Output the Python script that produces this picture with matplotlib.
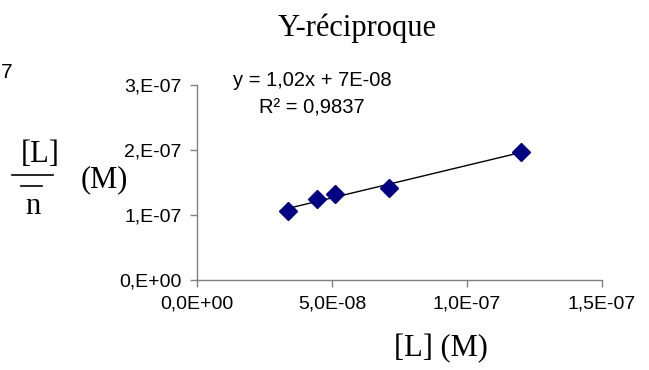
import matplotlib
matplotlib.use("Agg")
import matplotlib.pyplot as plt
import numpy as np

# data
conc_L = [3.38e-8, 4.43e-8, 5.10e-8, 7.11e-8, 1.199e-7]
ratio_L_n = [1.06e-7, 1.24e-7, 1.33e-7, 1.42e-7, 1.97e-7]
x_ticks = [0.0, 5e-8, 1e-7, 1.5e-7]
x_tick_labels = ["0,0E+00", "5,0E-08", "1,0E-07", "1,5E-07"]
y_ticks = [0.0, 1e-7, 2e-7, 3e-7]
y_tick_labels = ["0,E+00", "1,E-07", "2,E-07", "3,E-07"]
title = "Y-réciproque"
equation = "y = 1,02x + 7E-08"
r_squared = "R² = 0,9837"

SANS = "Liberation Sans"
SERIF = "Liberation Serif"
AXIS_GREY = "#808080"

fig = plt.figure(figsize=(6.49, 3.70), dpi=100)
ax = fig.add_axes([0.3035, 0.2432, 0.624, 0.527])

ax.plot(conc_L, ratio_L_n, linestyle="none", marker="D", markersize=9,
        color="#000080", zorder=3)

# linear trend line over the data range
slope, intercept = np.polyfit(conc_L, ratio_L_n, 1)
xs = np.array([min(conc_L), max(conc_L)])
ax.plot(xs, slope * xs + intercept, color="black", linewidth=1, zorder=2)

ax.set_xlim(0, 1.5e-7)
ax.set_ylim(0, 3e-7)
ax.set_xticks(x_ticks)
ax.set_xticklabels(x_tick_labels, family=SANS, fontsize=14)
ax.set_yticks(y_ticks)
ax.set_yticklabels(y_tick_labels, family=SANS, fontsize=14)
ax.tick_params(direction="out", length=5, width=1, color=AXIS_GREY, pad=6)

for side in ("top", "right"):
    ax.spines[side].set_visible(False)
for side in ("left", "bottom"):
    ax.spines[side].set_color(AXIS_GREY)
    ax.spines[side].set_linewidth(1)

# title and axis labels (pixel positions converted to figure fractions)
W, H = 649, 370


def fx(px):
    return px / W


def fy(py):
    return 1 - py / H


fig.text(fx(357), fy(28), title, family=SERIF, fontsize=22,
         ha="center", va="center")
fig.text(fx(441), fy(349), "[L] (M)", family=SERIF, fontsize=22,
         ha="center", va="center")

# y label: [L] over n-bar, then (M)
fig.text(fx(40), fy(155), "[L]", family=SERIF, fontsize=22,
         ha="center", va="center")
fig.add_artist(plt.Line2D([fx(12), fx(53)], [fy(175), fy(175)],
                          color="black", linewidth=1.2))
fig.add_artist(plt.Line2D([fx(21), fx(42)], [fy(186), fy(186)],
                          color="black", linewidth=1.2))
fig.text(fx(33), fy(206), "n", family=SERIF, fontsize=22,
         ha="center", va="center")
fig.text(fx(104), fy(180), "(M)", family=SERIF, fontsize=22,
         ha="center", va="center")

# trend line equation
fig.text(fx(312), fy(80), equation, family=SANS, fontsize=14.5,
         ha="center", va="center")
fig.text(fx(312), fy(108), r_squared, family=SANS, fontsize=14.5,
         ha="center", va="center")

# clipped fragment of a neighbouring label
fig.text(fx(7), fy(73), "7", family=SANS, fontsize=15,
         ha="center", va="center")

fig.savefig("out.png", dpi=100)
